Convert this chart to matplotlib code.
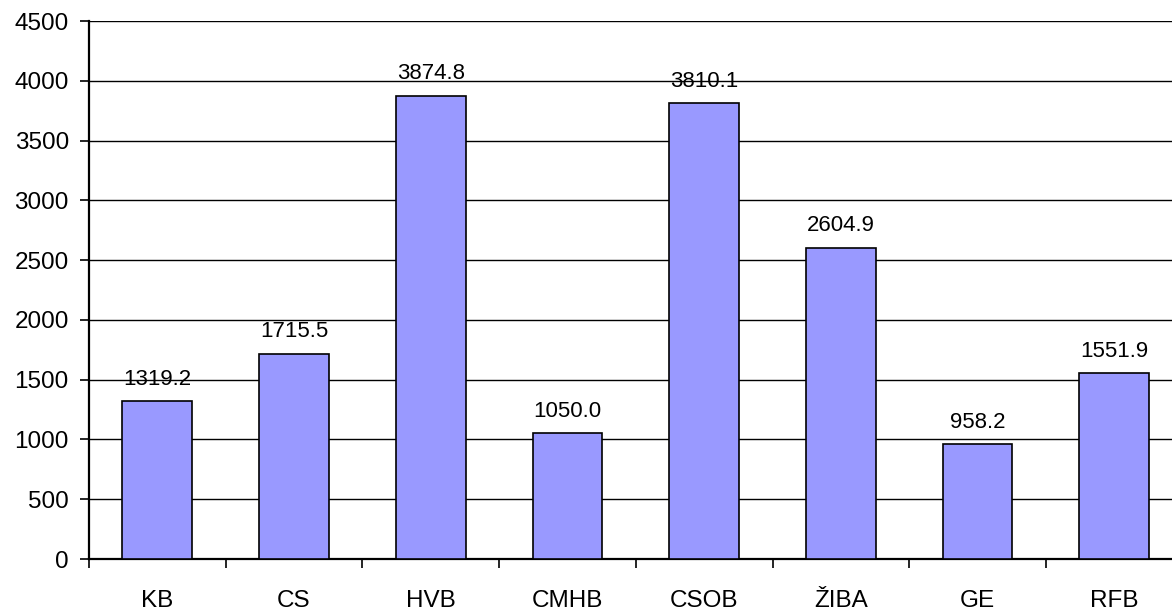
import matplotlib
matplotlib.use("Agg")
import matplotlib.pyplot as plt

banks = ["KB", "CS", "HVB", "CMHB", "CSOB", "ŽIBA", "GE", "RFB"]
values = [1319.2, 1715.5, 3874.8, 1050.0, 3810.1, 2604.9, 958.2, 1551.9]
y_ticks = list(range(0, 4501, 500))

plt.rcParams["font.family"] = ["Liberation Sans", "DejaVu Sans"]

W, H = 1172, 613
fig = plt.figure(figsize=(W / 100, H / 100), dpi=100)
ax = fig.add_axes([89 / W, 1 - 559 / H, (8 * 136.7) / W, (559 - 21) / H])

x = list(range(len(banks)))
ax.bar(x, values, width=0.51, color="#9999FF", edgecolor="black", linewidth=1.2, zorder=3)
for xi, v in zip(x, values):
    ax.annotate(f"{v:.1f}", (xi, v), xytext=(0, 12), textcoords="offset points",
                ha="center", va="baseline", fontsize=16, zorder=4)

ax.set_xlim(-0.5, len(banks) - 0.5)
ax.set_ylim(0, 4500)
ax.set_yticks(y_ticks)
ax.tick_params(axis="y", labelsize=17.5, length=6.5, width=1.2, direction="out", pad=8)
ax.yaxis.grid(True, color="black", linewidth=1.0, zorder=0)
ax.set_axisbelow(True)

ax.set_xticks([i + 0.5 for i in range(-1, len(banks))])
ax.set_xticklabels([])
ax.set_xticks(x, minor=True)
ax.set_xticklabels(banks, minor=True)
ax.tick_params(axis="x", which="major", length=6.5, width=1.2, direction="out")
ax.tick_params(axis="x", which="minor", length=0, labelsize=17.5, pad=22)

for side in ("top", "right"):
    ax.spines[side].set_visible(False)
for side in ("left", "bottom"):
    ax.spines[side].set_linewidth(1.6)

fig.savefig("out.png", dpi=100)
